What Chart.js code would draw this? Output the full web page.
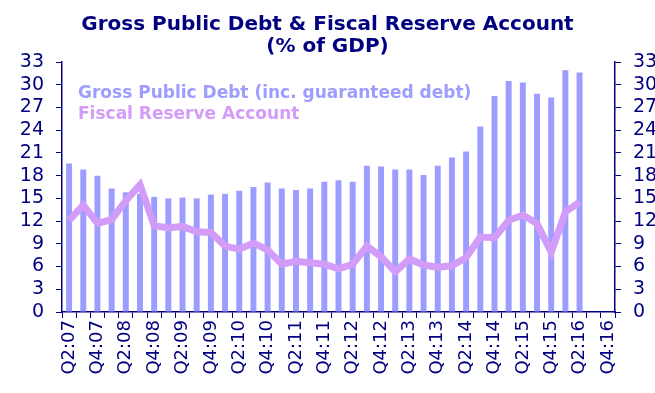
<!DOCTYPE html>
<html>
<head>
<meta charset="utf-8">
<script src="https://cdn.jsdelivr.net/npm/chart.js@4"></script>
<style>
  html, body { margin: 0; padding: 0; background: #fff; }
  #wrap { width: 655px; height: 393px; position: relative; }
</style>
</head>
<body>
<div id="wrap"><canvas id="debtChart"></canvas></div>
<script>
// quarters on the x axis (only every second one gets a label)
const quarters = [
  'Q2:07', 'Q3:07', 'Q4:07',
  'Q1:08', 'Q2:08', 'Q3:08', 'Q4:08',
  'Q1:09', 'Q2:09', 'Q3:09', 'Q4:09',
  'Q1:10', 'Q2:10', 'Q3:10', 'Q4:10',
  'Q1:11', 'Q2:11', 'Q3:11', 'Q4:11',
  'Q1:12', 'Q2:12', 'Q3:12', 'Q4:12',
  'Q1:13', 'Q2:13', 'Q3:13', 'Q4:13',
  'Q1:14', 'Q2:14', 'Q3:14', 'Q4:14',
  'Q1:15', 'Q2:15', 'Q3:15', 'Q4:15',
  'Q1:16', 'Q2:16', 'Q3:16', 'Q4:16'
];

// % of GDP
const grossDebt = [
  19.6, 18.8, 18.0,
  16.3, 15.8, 15.6, 15.2,
  15.0, 15.1, 15.0, 15.5,
  15.6, 16.0, 16.5, 17.1,
  16.3, 16.1, 16.3, 17.2,
  17.4, 17.2, 19.3, 19.2,
  18.8, 18.8, 18.1, 19.3,
  20.4, 21.2, 24.5, 28.5,
  30.5, 30.3, 28.8, 28.3,
  31.9, 31.6, null, null
];

const fiscalReserve = [
  12.1, 14.1, 11.7,
  12.2, 14.7, 16.8, 11.4,
  11.1, 11.3, 10.6, 10.5,
  8.7, 8.3, 9.1, 8.2,
  6.3, 6.7, 6.5, 6.3,
  5.7, 6.3, 8.7, 7.3,
  5.3, 7.0, 6.2, 5.9,
  6.1, 7.2, 9.9, 9.8,
  12.1, 12.8, 11.7, 7.9,
  13.2, 14.5
];

const yTicks = [0, 3, 6, 9, 12, 15, 18, 21, 24, 27, 30, 33];

const navy = '#000080';
const barColor = '#9d9dff';
const lineColor = '#d29cf8';
const fontFamily = '"DejaVu Sans", Verdana, sans-serif';

// legend drawn as plain coloured text inside the plot
const textLegend = {
  id: 'textLegend',
  afterDraw(chart) {
    const { ctx, chartArea } = chart;
    ctx.save();
    ctx.font = 'bold 17px ' + fontFamily;
    ctx.textBaseline = 'alphabetic';
    ctx.fillStyle = barColor;
    ctx.fillText('Gross Public Debt (inc. guaranteed debt)', chartArea.left + 16, chartArea.top + 36);
    ctx.fillStyle = lineColor;
    ctx.fillText('Fiscal Reserve Account', chartArea.left + 16, chartArea.top + 57);
    ctx.restore();
  }
};

const tickFont = { family: fontFamily, size: 18 };

new Chart(document.getElementById('debtChart'), {
  type: 'bar',
  data: {
    labels: quarters,
    datasets: [
      {
        type: 'line',
        label: 'Fiscal Reserve Account',
        data: fiscalReserve,
        borderColor: lineColor,
        backgroundColor: lineColor,
        borderWidth: 7,
        pointRadius: 0,
        tension: 0,
        yAxisID: 'y'
      },
      {
        label: 'Gross Public Debt (inc. guaranteed debt)',
        data: grossDebt,
        backgroundColor: barColor,
        barPercentage: 0.42,
        categoryPercentage: 1,
        yAxisID: 'y'
      }
    ]
  },
  options: {
    responsive: true,
    maintainAspectRatio: false,
    animation: false,
    layout: { padding: { top: 2, right: 0, left: 0, bottom: 0 } },
    plugins: {
      legend: { display: false },
      tooltip: { enabled: false },
      title: {
        display: true,
        text: ['Gross Public Debt & Fiscal Reserve Account', '(% of GDP)'],
        color: navy,
        font: { family: fontFamily, size: 20, weight: 'bold', lineHeight: 1.1 },
        padding: { top: 12, bottom: 4 }
      }
    },
    scales: {
      x: {
        offset: true,
        grid: { display: true, drawOnChartArea: false, offset: true, color: navy, tickLength: 6 },
        border: { color: navy, width: 1.5 },
        ticks: {
          color: navy,
          font: tickFont,
          autoSkip: false,
          maxRotation: 90,
          minRotation: 90,
          padding: 2,
          callback: function(val, i) { return i % 2 === 0 ? quarters[i] : ''; }
        },
        afterFit: function(scale) { scale.height = 81; }
      },
      y: {
        position: 'left',
        min: 0,
        max: 33,
        afterBuildTicks: function(scale) { scale.ticks = yTicks.map(v => ({ value: v })); },
        grid: { display: true, drawOnChartArea: false, color: navy, tickLength: 6 },
        border: { color: navy, width: 1.5 },
        ticks: { color: navy, font: { family: fontFamily, size: 19 }, padding: 12, autoSkip: false },
        afterFit: function(scale) { scale.width = 62; }
      },
      y2: {
        position: 'right',
        min: 0,
        max: 33,
        afterBuildTicks: function(scale) { scale.ticks = yTicks.map(v => ({ value: v })); },
        grid: { display: true, drawOnChartArea: false, color: navy, tickLength: 6 },
        border: { color: navy, width: 1.5 },
        ticks: { color: navy, font: { family: fontFamily, size: 19 }, padding: 12, autoSkip: false },
        afterFit: function(scale) { scale.width = 40; }
      }
    }
  },
  plugins: [textLegend]
});
</script>
</body>
</html>
